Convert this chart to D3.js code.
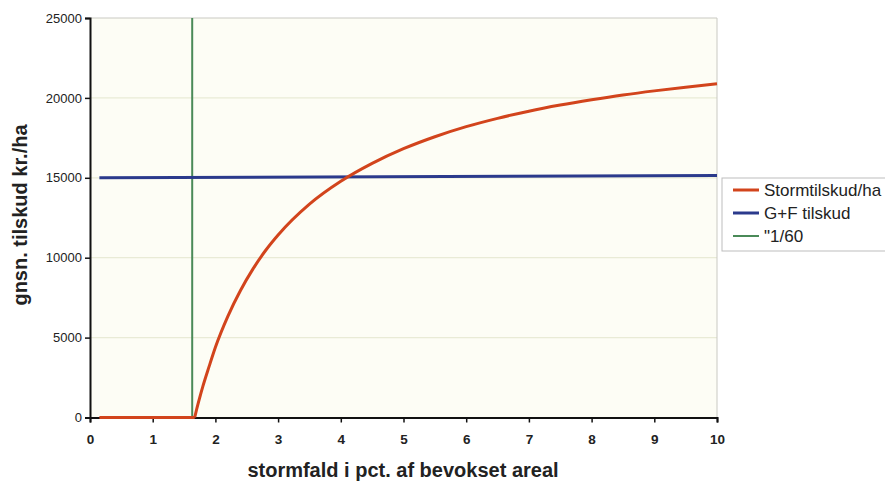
<!DOCTYPE html>
<html>
<head>
<meta charset="utf-8">
<script src="https://cdn.jsdelivr.net/npm/d3@7"></script>
<style>
  body { margin: 0; background: #fff; }
  svg { display: block; font-family: "Liberation Sans", Arial, sans-serif; }
</style>
</head>
<body>
<div class="chart"></div>
<script>
// Data
var stormX = [0.15, 1.67, 1.70, 1.75, 1.80, 1.90, 2.0, 2.2, 2.4, 2.6, 2.8, 3.0, 3.5, 4.0, 4.5, 5.0, 5.5, 6.0, 6.5, 7.0, 7.5, 8.0, 8.5, 9.0, 9.5, 10.0];
var stormY = [0, 0, 500, 1250, 1950, 3200, 4400, 6350, 7950, 9300, 10450, 11420, 13350, 14780, 15900, 16820, 17570, 18200, 18720, 19170, 19550, 19880, 20180, 20440, 20670, 20880];
var gfX = [0.15, 10];
var gfY = [15000, 15150];
var markX = [1.63, 1.63];
var markY = [0, 25000];
var seriesNames = ["Stormtilskud/ha", "G+F tilskud", "\"1/60"];
var xTicks = [0, 1, 2, 3, 4, 5, 6, 7, 8, 9, 10];
var yTicks = [0, 5000, 10000, 15000, 20000, 25000];

var svgWidth = 885;
var svgHeight = 483;
var colors = ["#d2441c", "#2b3a8c", "#4a8a58"];

var svg = d3.select(".chart").append("svg")
  .attr("width", svgWidth)
  .attr("height", svgHeight);

var xScale = d3.scaleLinear().domain([0, 10]).range([90, 717]);
var yScale = d3.scaleLinear().domain([0, 25000]).range([417.5, 18]);

// plot background
svg.append("rect")
  .attr("x", xScale(0)).attr("y", yScale(25000))
  .attr("width", xScale(10) - xScale(0))
  .attr("height", yScale(0) - yScale(25000))
  .attr("fill", "#fdfdf5");

// gridlines
svg.append("g").selectAll("line")
  .data(yTicks.slice(1, -1))
  .enter().append("line")
  .attr("x1", xScale(0)).attr("x2", xScale(10))
  .attr("y1", function(d) { return yScale(d); })
  .attr("y2", function(d) { return yScale(d); })
  .attr("stroke", "#e9ebd6")
  .attr("stroke-width", 1.2);

// top and right border
svg.append("path")
  .attr("d", "M" + xScale(0) + "," + yScale(25000) + "H" + xScale(10) + "V" + yScale(0))
  .attr("fill", "none")
  .attr("stroke", "#c9c9c2")
  .attr("stroke-width", 1);

// axes
var leftAxis = d3.axisLeft(yScale).tickValues(yTicks).tickSize(5).tickPadding(3).tickFormat(d3.format("d"));
var bottomAxis = d3.axisBottom(xScale).tickValues(xTicks).tickSize(5).tickPadding(12).tickFormat(d3.format("d"));

var gy = svg.append("g").attr("transform", "translate(" + xScale(0) + ",0)").call(leftAxis);
gy.select(".domain").attr("stroke", "#111").attr("stroke-width", 2);
gy.selectAll(".tick line").attr("stroke", "#111").attr("stroke-width", 1.5);
gy.selectAll(".tick text").attr("font-size", "13px").attr("fill", "#222")
  .attr("font-family", "'Liberation Sans', Arial, sans-serif");

var gx = svg.append("g").attr("transform", "translate(0," + yScale(0) + ")").call(bottomAxis);
gx.select(".domain").attr("stroke", "#111").attr("stroke-width", 2);
gx.selectAll(".tick line").attr("stroke", "#111").attr("stroke-width", 1.5);
gx.selectAll(".tick text").attr("font-size", "13.5px").attr("font-weight", "bold").attr("fill", "#222")
  .attr("font-family", "'Liberation Sans', Arial, sans-serif");

// series
function pts(xs, ys) {
  return xs.map(function(x, i) { return [x, ys[i]]; });
}
var lineLinear = d3.line()
  .x(function(d) { return xScale(d[0]); })
  .y(function(d) { return yScale(d[1]); });
var lineSmooth = d3.line()
  .x(function(d) { return xScale(d[0]); })
  .y(function(d) { return yScale(d[1]); })
  .curve(d3.curveMonotoneX);

var storm = pts(stormX, stormY);

// vertical marker
svg.append("path")
  .attr("d", lineLinear(pts(markX, markY)))
  .attr("fill", "none").attr("stroke", colors[2]).attr("stroke-width", 2);

// G+F tilskud
svg.append("path")
  .attr("d", lineLinear(pts(gfX, gfY)))
  .attr("fill", "none").attr("stroke", colors[1]).attr("stroke-width", 3);

// Stormtilskud: flat part then the rising curve
svg.append("path")
  .attr("d", lineLinear(storm.slice(0, 2)))
  .attr("fill", "none").attr("stroke", colors[0]).attr("stroke-width", 3);
svg.append("path")
  .attr("d", lineSmooth(storm.slice(1)))
  .attr("fill", "none").attr("stroke", colors[0]).attr("stroke-width", 3)
  .attr("stroke-linejoin", "round");

// axis titles
svg.append("text")
  .attr("transform", "translate(27,215) rotate(-90)")
  .attr("text-anchor", "middle")
  .attr("font-size", "20px").attr("font-weight", "bold").attr("fill", "#222")
  .text("gnsn. tilskud kr./ha");

svg.append("text")
  .attr("x", 403).attr("y", 477)
  .attr("text-anchor", "middle")
  .attr("font-size", "20px").attr("font-weight", "bold").attr("fill", "#222")
  .text("stormfald i pct. af bevokset areal");

// legend
var legend = svg.append("g");
legend.append("rect")
  .attr("x", 722).attr("y", 178).attr("width", 170).attr("height", 73)
  .attr("fill", "#fff").attr("stroke", "#bdbdbd").attr("stroke-width", 1);
var rows = legend.selectAll("g.row")
  .data(seriesNames)
  .enter().append("g").attr("class", "row")
  .attr("transform", function(d, i) { return "translate(0," + (190 + i * 23) + ")"; });
rows.append("line")
  .attr("x1", 733).attr("x2", 759).attr("y1", 0).attr("y2", 0)
  .attr("stroke", function(d, i) { return colors[i]; })
  .attr("stroke-width", function(d, i) { return i === 2 ? 2 : 3; });
rows.append("text")
  .attr("x", 764).attr("y", 0).attr("dy", "0.35em")
  .attr("font-size", "17px").attr("fill", "#222")
  .text(function(d) { return d; });
</script>
</body>
</html>
